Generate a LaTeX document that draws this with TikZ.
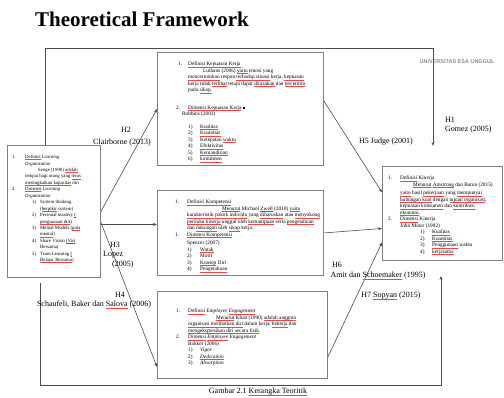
\documentclass[tikz,border=0pt]{standalone}
\usepackage{fontspec}
\setmainfont{Liberation Serif}
\newfontfamily\wmfont{Liberation Sans}
\usetikzlibrary{arrows.meta}
% spell-check style underlines
\newcommand{\sq}[1]{\begingroup\setbox0\hbox{#1}\rlap{\color{red!75}\rule[-1pt]{\wd0}{0.35pt}}\box0\endgroup}
\newcommand{\bq}[1]{\begingroup\setbox0\hbox{#1}\rlap{\color{blue!70}\rule[-1pt]{\wd0}{0.35pt}}\box0\endgroup}
\newcommand{\lnum}[2]{\makebox[#1pt][l]{#2}}
\newcommand{\indt}[1]{\hspace*{#1pt}}
\begin{document}
\begin{tikzpicture}[x=1pt,y=-1pt]
    \tikzstyle{box}=[draw=black!50, line width=0.9pt, anchor=north west, inner sep=0pt]
    \tikzstyle{txt}=[anchor=north west, align=left, inner sep=0pt, font=\fontsize{5.3}{6.5}\selectfont]
    \tikzstyle{lbl}=[inner sep=0pt, font=\fontsize{8}{9.5}\selectfont]
    \tikzstyle{link}=[draw=black!70, line width=0.6pt, -{Stealth[length=4pt,width=3pt]}]

    \useasboundingbox (0,0) rectangle (504,398);

    \node[anchor=west, inner sep=0pt, font=\fontsize{21}{24}\selectfont\bfseries] (title) at (35,19) {Theoretical Framework};
    \node[inner sep=0pt, text=black!45, font=\wmfont\bfseries\fontsize{5.5}{6}\selectfont] (wm) at (457,62) {UNIVERSITAS ESA UNGGUL};

    % boxes
    \node[box, minimum width=93pt, minimum height=132pt] (learn) at (7,145) {};
    \node[box, minimum width=166pt, minimum height=113pt] (satisf) at (157,52) {};
    \node[box, minimum width=166pt, minimum height=85pt] (compet) at (157,190) {};
    \node[box, minimum width=170pt, minimum height=87pt] (engage) at (157,291) {};
    \node[box, minimum width=120pt, minimum height=94pt] (perform) at (382,166) {};

    \node[txt, font=\fontsize{4.8}{6.45}\selectfont] (learntxt) at (12,155) {%
      \lnum{13}{1.}\sq{Definisi} \textit{Learning}\\
      \indt{13}\textit{Organization}\\
      \indt{26}Senge (1990) \sq{adalah}\\
      \indt{13}tempat bagi orang yang \sq{terus}\\
      \indt{13}\sq{meningkatkan kapasitas} diri\\
      \lnum{13}{2.}\sq{Dimensi} \textit{Learning}\\
      \indt{13}\textit{Organization}\\
      \indt{20}\lnum{8}{1)}System thinking\\
      \indt{28}(\sq{berpikir} system)\\
      \indt{20}\lnum{8}{2)}Personal mastery \bq{(}\\
      \indt{28}\sq{penguasaan diri})\\
      \indt{20}\lnum{8}{3)}Mental Models (\sq{pola}\\
      \indt{28}\sq{mental})\\
      \indt{20}\lnum{8}{4)}Share Vision \bq{(Visi}\\
      \indt{28}Bersama)\\
      \indt{20}\lnum{8}{5)}Team Learning \bq{(}\\
      \indt{28}\sq{Belajar Bersama})};

    \node[txt] (satisftxt) at (176,62) {%
      \indt{2}\lnum{10}{1.}\sq{Definisi Kepuasan Kerja}\\
      \indt{27}Luthans (2006) \sq{yaitu} emosi yang\\
      \indt{12}\sq{mencerminkan} respon \sq{terhadap situasi} kerja, \sq{kepuasan}\\
      \indt{12}kerja tidak \sq{terlihat} tetapi dapat \sq{dirasakan} dan \sq{tercermin}\\
      \indt{12}pada \sq{sikap}.\\[11pt]
      \lnum{12}{2.}\sq{Dimensi Kepuasan Kerja} \rule{2pt}{2pt}\\
      \indt{6}Robbins (2003)\\[6pt]
      \indt{12}\lnum{12}{1)}\sq{Kualitas}\\
      \indt{12}\lnum{12}{2)}\sq{Kuantitas}\\
      \indt{12}\lnum{12}{3)}Ketepatan \sq{waktu}\\
      \indt{12}\lnum{12}{4)}\sq{Efektivitas}\\
      \indt{12}\lnum{12}{5)}\sq{Kemandirian}\\
      \indt{12}\lnum{12}{6)}\sq{komitmen}};

    \node[txt] (compettxt) at (175,200) {%
      \lnum{12}{1.}\sq{Definisi Kompetensi}\\
      \indt{47}\sq{Menurut} Michael \bq{Zwell} (2010) \sq{yaitu}\\
      \indt{12}\sq{karakteristik pokok individu} yang \sq{diharuskan} atau \sq{menyokong}\\
      \indt{12}\sq{perilaku kinerja} unggul oleh \sq{kemampuan} serta \sq{pengetahuan}\\
      \indt{12}dan \sq{dukungan} oleh \sq{sikap} kerja.\\
      \lnum{12}{1.}\sq{Dimensi Kompetensi}\\[2pt]
      \indt{12}Spencer (2007)\\
      \indt{12}\lnum{13}{1)}\sq{Watak}\\
      \indt{12}\lnum{13}{2)}Motif\\
      \indt{12}\lnum{13}{3)}\sq{Konsep} Diri\\
      \indt{12}\lnum{13}{4)}\sq{Pengetahuan}};

    \node[txt] (engagetxt) at (176,309) {%
      \lnum{12}{1.}\sq{Definisi} \textit{Employee \sq{Engagement}}\\
      \indt{40}\sq{Menurut} Khan (1990) \sq{adalah anggota}\\
      \indt{12}\sq{organisasi melibatkan diri} dalam kerja, \sq{bekerja} dan\\
      \indt{12}\sq{mengekspresikan diri secara fisik}.\\
      \lnum{12}{2.}\sq{Dimensi} \textit{\sq{Employee} Engagement}\\
      \indt{12}Bakker (2006)\\
      \indt{12}\lnum{12}{1)}\textit{Vigor}\\
      \indt{12}\lnum{12}{2)}\textit{\sq{Dedication}}\\
      \indt{12}\lnum{12}{3)}\textit{Absorption}};

    \node[txt] (performtxt) at (388,176) {%
      \lnum{12}{1.}\sq{Definisi} Kinerja\\
      \indt{25}\sq{Menurut} \sq{Amstrong} dan Baron (2015)\\[2pt]
      \indt{12}\sq{yaitu} hasil \sq{pekerjaan} yang \sq{mempunyai}\\
      \indt{12}\sq{hubungan kuat} dengan \sq{tujuan organisasi},\\
      \indt{12}\sq{kepuasan konsumen} dan \sq{kontribusi}\\
      \indt{12}\sq{ekonomi}.\\
      \lnum{12}{2.}\sq{Dimensi} Kinerja\\
      \indt{12}John Miner (1992)\\
      \indt{32}\lnum{12}{1)}\sq{Kualitas}\\
      \indt{32}\lnum{12}{2)}\sq{Kuantitas}\\
      \indt{32}\lnum{12}{3)}\sq{Penggunaan} waktu\\
      \indt{32}\lnum{12}{4)}\sq{kerjasama}};

    % long connectors
    \coordinate (h1turn) at (433,48);
    \coordinate (h1end) at (433,146);
    \coordinate (h7start) at (40,283);
    \coordinate (h7turn) at (441,385);
    \coordinate (h7end) at (441,276);
    \draw[link] ([xshift=-8.5pt]learn.north) |- (h1turn) -- (h1end);
    \draw[link] (h7start) |- (h7turn) -- (h7end);

    \path (learn.east) edge[link] (satisf.west);
    \path ([yshift=-13pt]learn.east) edge[link] ([yshift=-13pt]learn.east -| compet.west);
    \path ([yshift=-11pt]learn.east) edge[link] ([yshift=-32pt]engage.west);
    \path ([yshift=8pt]satisf.east) edge[link] ([yshift=21pt]perform.west);
    \path (compet.east) edge[link] ([yshift=-15pt]perform.west);
    \path ([yshift=-22pt]engage.east) edge[link] ([yshift=-29pt]perform.west);

    % labels
    \node[lbl] (h2) at (126,130) {H2};
    \node[lbl] (h2src) at (122,143) {Clairborne (2013)};
    \node[lbl, anchor=north west, align=left] (h3) at (103,242) {\indt{7}H3\\Lopez\\\indt{9}(2005)};
    \node[lbl] (h4) at (120,295) {H4};
    \node[lbl] (h4src) at (94,305) {Schaufeli, Baker dan \sq{Salova} (2006)};
    \node[lbl] (h5) at (386,142) {H5 Judge (2001)};
    \node[lbl, anchor=north west, align=left] (h1) at (445,117) {H1\\Gomez (2005)};
    \node[lbl] (h6) at (337,265) {H6};
    \node[lbl] (h6src) at (378,276) {Amit dan \sq{Schoemaker} (1995)};
    \node[lbl] (h7) at (391,296) {H7 \sq{Sopyan} (2015)};
    \node[lbl] (caption) at (258,392) {Gambar 2.1 \sq{Kerangka Teoritik}};
\end{tikzpicture}
\end{document}
